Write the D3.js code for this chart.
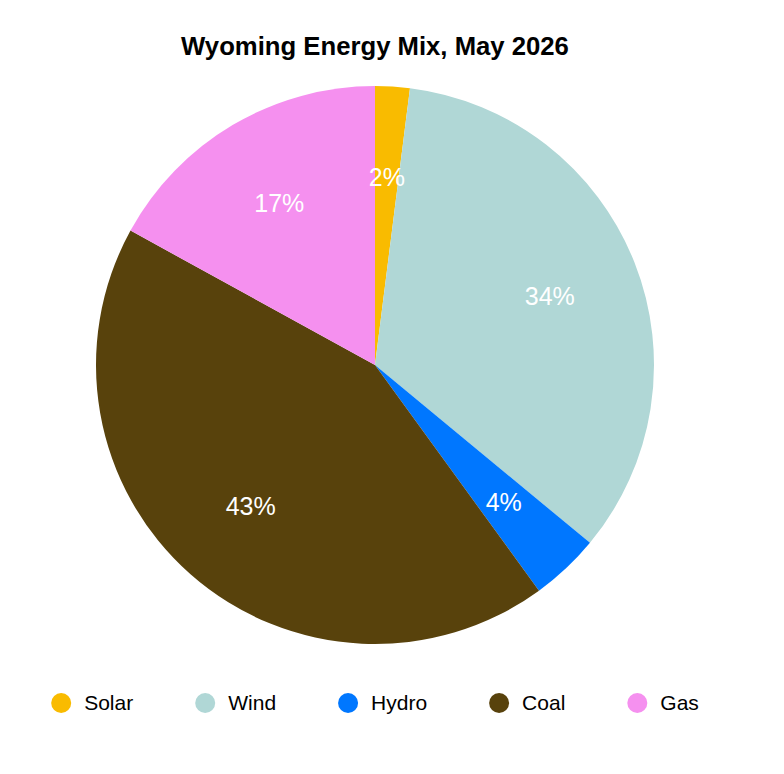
<!DOCTYPE html>
<html>
<head>
<meta charset="utf-8">
<script src="https://cdn.jsdelivr.net/npm/d3@7"></script>
<style>
  body { margin: 0; background: #fff; }
  svg text { font-family: "Liberation Sans", Arial, Helvetica, sans-serif; }
</style>
</head>
<body>
<div id="chart"></div>
<script>
'use strict'

const title = "Wyoming Energy Mix, May 2026"
const sources = ["Solar", "Wind", "Hydro", "Coal", "Gas"]
const shares = [2, 34, 4, 43, 17]
const colors = ["#f9bb00", "#b0d7d6", "#0077ff", "#58420c", "#f590ef"]

const width = 784, height = 774
const cx = 375, cy = 365, radius = 279, labelRadius = 188

const data = sources.map((s, i) => ({source: s, value: shares[i]}))
const color = d3.scaleOrdinal().domain(sources).range(colors)

const svg = d3.select("#chart").append("svg")
  .attr("width", width).attr("height", height)

svg.append("text")
  .attr("x", cx).attr("y", 55)
  .attr("text-anchor", "middle")
  .attr("font-size", 25.7).attr("font-weight", "bold")
  .attr("fill", "#000")
  .text(title)

const pie = d3.pie().sort(null).value(d => d.value)
const arc = d3.arc().innerRadius(0).outerRadius(radius)
const labelArc = d3.arc().innerRadius(labelRadius).outerRadius(labelRadius)
const total = d3.sum(shares)

const g = svg.append("g").attr("transform", `translate(${cx},${cy})`)
const arcs = pie(data)

g.selectAll("path").data(arcs).join("path")
  .attr("d", arc)
  .attr("fill", d => color(d.data.source))

g.selectAll("text").data(arcs).join("text")
  .attr("transform", d => `translate(${labelArc.centroid(d)})`)
  .attr("text-anchor", "middle")
  .attr("dy", "0.35em")
  .attr("font-size", 25)
  .attr("fill", "#fff")
  .text(d => Math.round(d.data.value / total * 100) + "%")

// legend, laid out by measured text width then centred
const legend = svg.append("g")
const items = legend.selectAll("g").data(sources).join("g")
items.append("circle").attr("r", 10).attr("cx", 10).attr("cy", 0)
  .attr("fill", d => color(d))
items.append("text").attr("x", 33).attr("dy", "0.35em")
  .attr("font-size", 21).attr("fill", "#000")
  .text(d => d)

let xPos = 0
items.each(function(){
  const w = d3.select(this).select("text").node().getComputedTextLength()
  d3.select(this).attr("transform", `translate(${xPos},0)`)
  xPos += 33 + w + 62
})
const legendW = xPos - 62
legend.attr("transform", `translate(${cx - legendW / 2},703)`)
</script>
</body>
</html>
